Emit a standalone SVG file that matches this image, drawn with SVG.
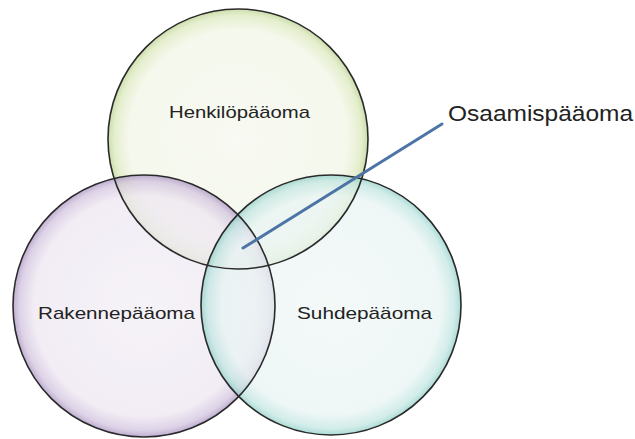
<svg xmlns="http://www.w3.org/2000/svg" width="635" height="439" viewBox="0 0 635 439">
<defs>
<radialGradient id="gTop" cx="0.5" cy="0.5" r="0.5">
<stop offset="0" stop-color="#f5f8ee"/>
<stop offset="0.84" stop-color="#f1f5e5"/>
<stop offset="0.95" stop-color="#dbe8bb"/>
<stop offset="1" stop-color="#b9d18c"/>
</radialGradient>
<radialGradient id="gLeft" cx="0.5" cy="0.5" r="0.5">
<stop offset="0" stop-color="#f2eef5"/>
<stop offset="0.84" stop-color="#ede6f1"/>
<stop offset="0.95" stop-color="#d0c1dd"/>
<stop offset="1" stop-color="#a68fbf"/>
</radialGradient>
<radialGradient id="gRight" cx="0.5" cy="0.5" r="0.5">
<stop offset="0" stop-color="#f0f7f6"/>
<stop offset="0.84" stop-color="#e8f4f3"/>
<stop offset="0.95" stop-color="#c0e5e1"/>
<stop offset="1" stop-color="#8dcfc7"/>
</radialGradient>
</defs>
<style>
.c{stroke:none;fill-opacity:0.72}
.o{stroke:#2a2a2a;stroke-width:1.6;fill:none}
.t{font-family:"Liberation Sans",Arial,sans-serif;fill:#222}
.conn{stroke:#4d74a6;stroke-width:3;stroke-linecap:round;fill:none}
</style>
<rect width="635" height="439" fill="#ffffff"/>
<g id="henkilopaaoma">
<circle class="c" cx="238" cy="139" r="130" fill="url(#gTop)"/>
<text class="t" x="169" y="118" font-size="17" textLength="141" lengthAdjust="spacingAndGlyphs">Henkilöpääoma</text>
</g>
<g id="rakennepaaoma">
<circle class="c" cx="144" cy="306" r="131" fill="url(#gLeft)"/>
<text class="t" x="38" y="319" font-size="17" textLength="157" lengthAdjust="spacingAndGlyphs">Rakennepääoma</text>
</g>
<g id="suhdepaaoma">
<circle class="c" cx="331" cy="305" r="130" fill="url(#gRight)"/>
<text class="t" x="297" y="319" font-size="17" textLength="135" lengthAdjust="spacingAndGlyphs">Suhdepääoma</text>
</g>
<g id="outlines">
<circle class="o" cx="238" cy="139" r="130"/>
<circle class="o" cx="144" cy="306" r="131"/>
<circle class="o" cx="331" cy="305" r="130"/>
</g>
<g id="connectors">
<line class="conn" x1="243" y1="248" x2="442" y2="124"/>
</g>
<g id="osaamispaaoma">
<text class="t" x="448" y="121" font-size="22" textLength="185" lengthAdjust="spacingAndGlyphs">Osaamispääoma</text>
</g>
</svg>
